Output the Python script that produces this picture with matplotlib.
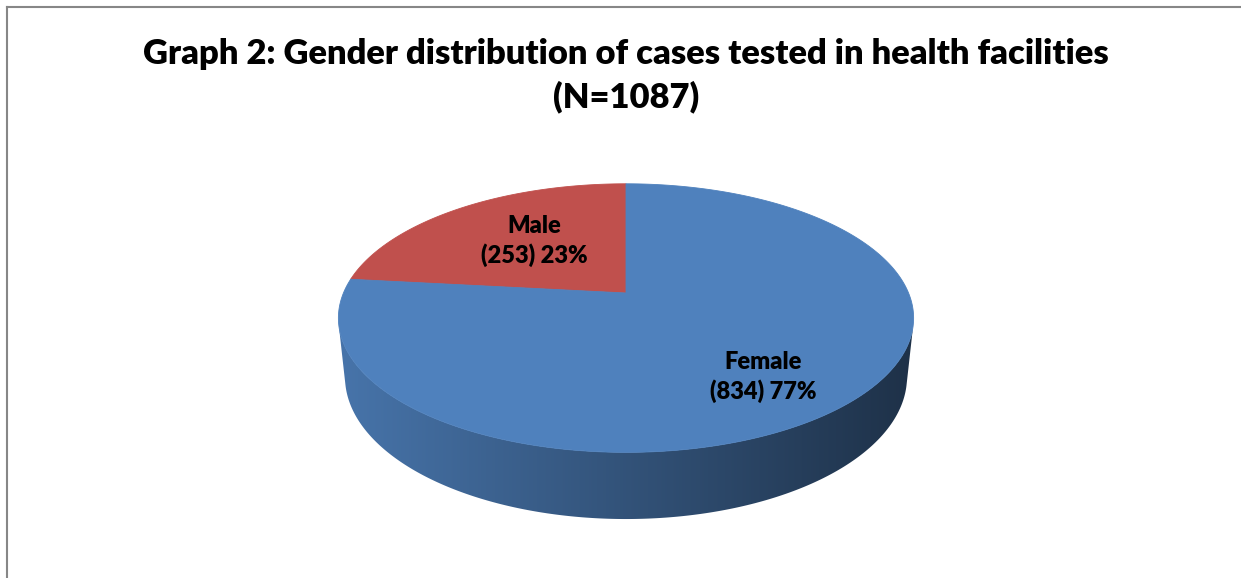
import numpy as np
import matplotlib.pyplot as plt
from matplotlib.lines import Line2D
from matplotlib.patches import Polygon
from matplotlib.colors import to_rgb

# data
labels = ['Male', 'Female']
counts = [253, 834]
pcts = [23, 77]
colors = ['#c0504d', '#4f81bd']
title = 'Graph 2: Gender distribution of cases tested in health facilities\n(N=1087)'

# fake excel style 3d view (tuned by eye)
elev = np.radians(27.3)
dist = 4.76
focal = 1345
depth = 0.2365
start = 90.0                      # first slice starts at 12 o'clock, counter clockwise
label_r = [0.52, 0.66]            # where the labels sit along the mid angle
label_nudge = [(0, 5), (0, -14)]  # pixel nudge of the labels
shade_left, shade_right = 0.90, 0.38

W, H = 1241, 578
cx, cy = 626, 293   # pixel where the pie centre lands

plt.rcParams['font.family'] = ['Lato', 'DejaVu Sans']


def project(x, y, z):
    ce, se = np.cos(elev), np.sin(elev)
    d = dist + y * ce - z * se
    return focal * x / d, focal * (y * se + z * ce) / d


fig = plt.figure(figsize=(W / 100, H / 100), dpi=100)
ax = fig.add_axes([0, 0, 1, 1])
ax.axis('off')

fracs = np.array(counts) / np.sum(counts)
bounds = start + 360 * np.concatenate([[0], np.cumsum(fracs)])

# a point on the rim faces the camera when 1 + sin(t)*dist*cos(elev) < 0
walls = []
for i in range(len(counts)):
    a = np.radians(np.linspace(bounds[i], bounds[i + 1], 1500))
    a = a[1 + np.sin(a) * dist * np.cos(elev) < 0]
    if len(a) < 2:
        continue
    xs = np.concatenate([np.cos(a), np.cos(a[::-1])])
    ys = np.concatenate([np.sin(a), np.sin(a[::-1])])
    zs = np.concatenate([np.zeros(len(a)), -depth * np.ones(len(a))])
    u, v = project(xs, ys, zs)
    walls.append((u, v, i))

umin = min(w[0].min() for w in walls)
umax = max(w[0].max() for w in walls)
for u, v, i in walls:
    s = np.linspace(shade_left, shade_right, 256)
    grad = np.array(to_rgb(colors[i]))[None, None, :] * s[None, :, None]
    poly = Polygon(np.column_stack([u, v]), closed=True, fc='none', ec='none')
    ax.add_patch(poly)
    im = ax.imshow(grad, extent=(umin, umax, v.min() - 2, v.max() + 2),
                   aspect='auto', interpolation='bilinear', zorder=1)
    im.set_clip_path(poly)

# top of the pie
for i in range(len(counts)):
    a = np.radians(np.linspace(bounds[i], bounds[i + 1], 300))
    xs = np.concatenate([[0], np.cos(a), [0]])
    ys = np.concatenate([[0], np.sin(a), [0]])
    u, v = project(xs, ys, np.zeros_like(xs))
    ax.fill(u, v, color=colors[i], lw=0.6, ec=colors[i], zorder=2)

ax.set_xlim(-cx, W - cx)
ax.set_ylim(-(H - cy), cy)

# labels
for i in range(len(counts)):
    m = np.radians(0.5 * (bounds[i] + bounds[i + 1]))
    u, v = project(label_r[i] * np.cos(m), label_r[i] * np.sin(m), 0)
    ax.annotate(f'{labels[i]}\n({counts[i]}) {pcts[i]}%', (u, v),
                xytext=label_nudge[i], textcoords='offset pixels',
                ha='center', va='center', fontsize=17, fontweight='heavy',
                linespacing=1.35, color='black', zorder=3)

fig.text(cx / W, 1 - 76 / H, title, ha='center', va='center',
         fontsize=24.8, fontweight='heavy', linespacing=1.4)

# chart frame (only top and left edges are inside the crop)
fig.add_artist(Line2D([7 / W, 1], [1 - 7 / H, 1 - 7 / H], color='#878787', lw=1.5))
fig.add_artist(Line2D([7 / W, 7 / W], [0, 1 - 7 / H], color='#878787', lw=1.5))

fig.savefig('out.png', dpi=100)
